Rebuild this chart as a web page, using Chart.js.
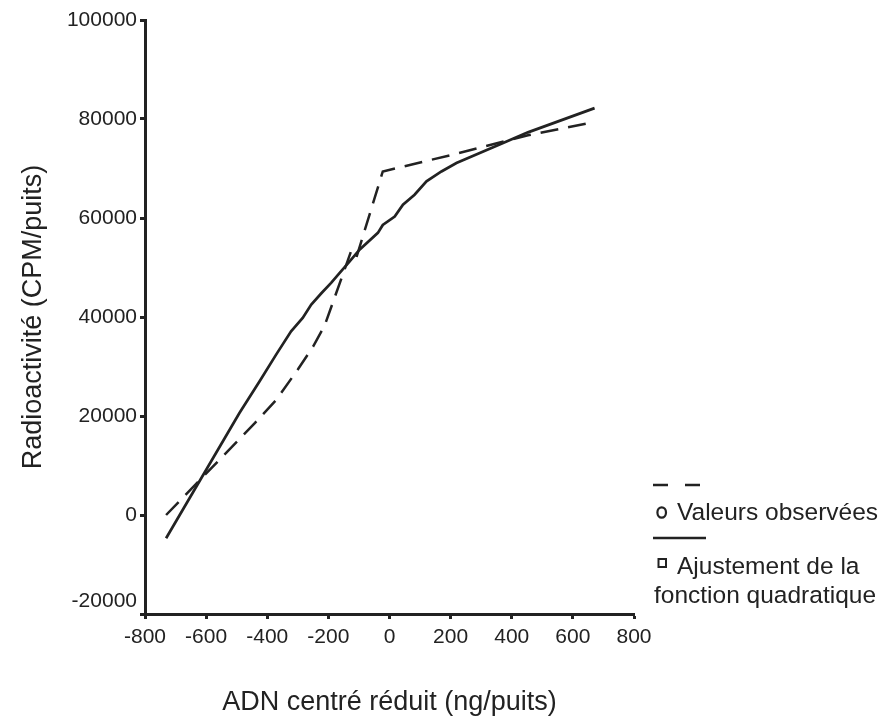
<!DOCTYPE html>
<html>
<head>
<meta charset="utf-8">
<script src="https://cdn.jsdelivr.net/npm/chart.js@4/dist/chart.umd.min.js"></script>
<style>
html,body{margin:0;padding:0;background:#fff;}
#wrap{width:896px;height:722px;position:relative;}
canvas{display:block;}
</style>
</head>
<body>
<div id="wrap"><canvas id="c" width="896" height="722"></canvas></div>
<script>
// ---- data ----
const xTicks = [-800, -600, -400, -200, 0, 200, 400, 600, 800];
const yTicks = [-20000, 0, 20000, 40000, 60000, 80000, 100000];

// Valeurs observées (dashed)
const obsX = [-731, -440, -370, -300, -250, -212, -125, -108, -22, 200, 453, 662];
const obsY = [0, 18600, 23300, 29400, 34000, 38300, 53400, 52100, 69400, 72700, 76700, 79300];

// Ajustement de la fonction quadratique (solid)
const fitX = [-731, -491, -425, -371, -322, -284, -256, -223, -191, -163, -131, -98, -38, -22, 17, 44, 82, 121, 170, 219, 366, 453, 671];
const fitY = [-4700, 20600, 27000, 32400, 37100, 39800, 42500, 44800, 46900, 48900, 51200, 53600, 57000, 58600, 60300, 62700, 64700, 67400, 69400, 71100, 75000, 77300, 82200];

const xTitle = 'ADN centré réduit (ng/puits)';
const yTitle = 'Radioactivité (CPM/puits)';
const legendLabels = ['Valeurs observées', 'Ajustement de la', 'fonction quadratique'];

const INK = '#222';
const FONT = '"Liberation Sans", Arial, Helvetica, sans-serif';

const toPts = (xs, ys) => xs.map((x, i) => ({x: x, y: ys[i]}));

const legendPlugin = {
  id: 'customLegend',
  afterDraw(chart) {
    const ctx = chart.ctx;
    ctx.save();
    ctx.strokeStyle = INK;
    ctx.fillStyle = INK;
    // dashed sample
    ctx.lineWidth = 2.5;
    ctx.setLineDash([15, 17]);
    ctx.beginPath(); ctx.moveTo(653, 485); ctx.lineTo(706, 485); ctx.stroke();
    // solid sample
    ctx.setLineDash([]);
    ctx.beginPath(); ctx.moveTo(653, 538); ctx.lineTo(706, 538); ctx.stroke();
    // circle marker
    ctx.lineWidth = 2.2;
    ctx.beginPath(); ctx.ellipse(661.7, 512.5, 4.3, 5.2, 0, 0, Math.PI * 2); ctx.stroke();
    // square marker
    ctx.lineWidth = 2;
    ctx.strokeRect(658.5, 559, 7.5, 8);
    // texts
    ctx.font = '24.5px ' + FONT;
    ctx.textAlign = 'left';
    ctx.textBaseline = 'alphabetic';
    ctx.fillText(legendLabels[0], 677, 520);
    ctx.fillText(legendLabels[1], 677, 574);
    ctx.fillText(legendLabels[2], 654, 603);
    ctx.restore();
  }
};

new Chart(document.getElementById('c'), {
  type: 'line',
  data: {
    datasets: [
      {
        label: legendLabels[0],
        data: toPts(obsX, obsY),
        borderColor: INK,
        borderWidth: 2.5,
        borderDash: [18, 10],
        pointRadius: 0,
        fill: false,
        tension: 0
      },
      {
        label: legendLabels[1] + ' ' + legendLabels[2],
        data: toPts(fitX, fitY),
        borderColor: INK,
        borderWidth: 2.7,
        pointRadius: 0,
        fill: false,
        tension: 0
      }
    ]
  },
  options: {
    responsive: false,
    devicePixelRatio: 1,
    animation: false,
    layout: {padding: {top: 20, right: 262, bottom: 0, left: 0}},
    plugins: {legend: {display: false}, tooltip: {enabled: false}},
    scales: {
      x: {
        type: 'linear',
        min: -800, max: 800,
        afterBuildTicks: s => { s.ticks = xTicks.map(v => ({value: v})); },
        afterFit: s => { s.height = 108; },
        border: {display: true, color: INK, width: 3},
        grid: {drawOnChartArea: false, drawTicks: true, tickLength: 5, tickWidth: 3, tickColor: INK, color: INK},
        ticks: {color: INK, padding: 6, maxRotation: 0, autoSkip: false, font: {family: FONT, size: 21}, callback: v => String(v)},
        title: {display: true, text: xTitle, color: INK, font: {family: FONT, size: 27}, padding: {top: 0, bottom: 3}}
      },
      y: {
        type: 'linear',
        min: -20000, max: 100000,
        afterBuildTicks: s => { s.ticks = yTicks.map(v => ({value: v})); },
        afterFit: s => { s.width = 145; },
        border: {display: true, color: INK, width: 3},
        grid: {drawOnChartArea: false, drawTicks: true, tickLength: 5, tickWidth: 3, tickColor: INK, color: INK},
        ticks: {color: INK, padding: 3, autoSkip: false, font: {family: FONT, size: 21},
                // lowest label is lifted above its tick in the reference
                callback: v => (v === yTicks[0] ? [String(v), ''] : String(v))},
        title: {display: true, text: yTitle, color: INK, font: {family: FONT, size: 27}, padding: {top: 17, bottom: 0}}
      }
    }
  },
  plugins: [legendPlugin]
});
</script>
</body>
</html>
